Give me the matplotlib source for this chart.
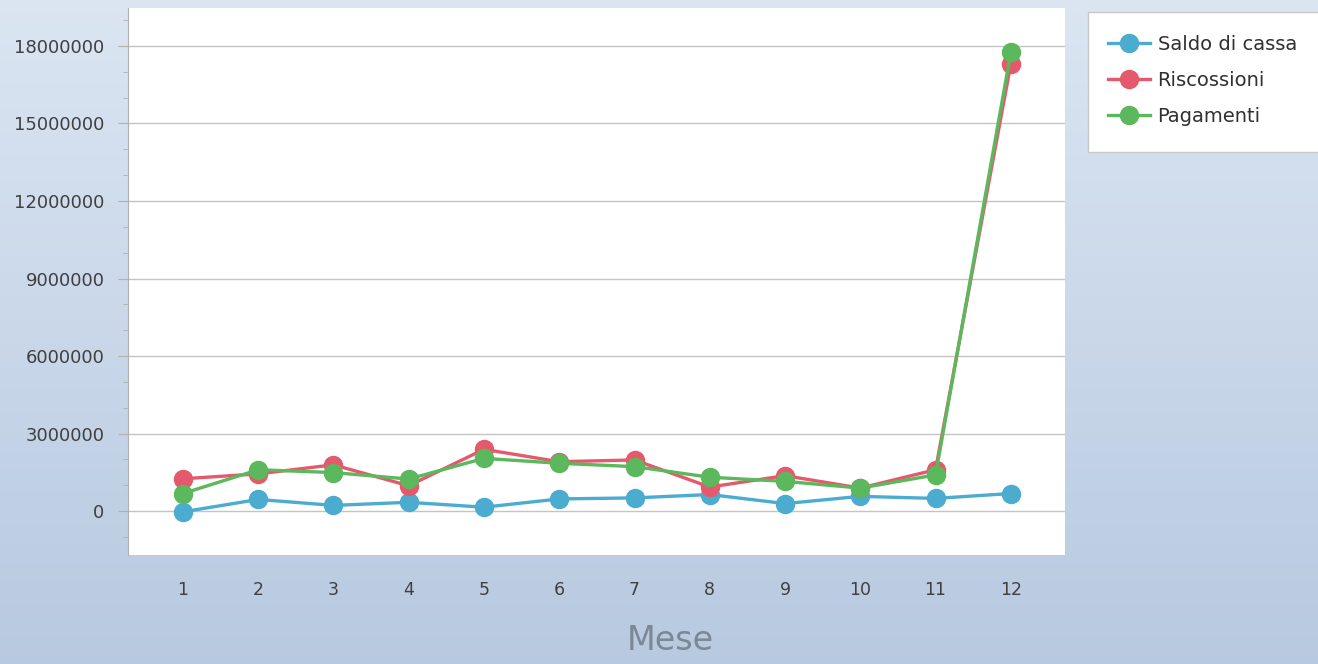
import matplotlib.pyplot as plt
import numpy as np
from matplotlib.patches import Rectangle
from matplotlib.ticker import MultipleLocator, FuncFormatter

months = list(range(1, 13))
saldo = [-30000, 450000, 220000, 340000, 150000, 470000, 510000, 640000, 290000, 570000, 490000, 680000]
riscossioni = [1250000, 1440000, 1790000, 980000, 2390000, 1910000, 1980000, 930000, 1370000, 890000, 1600000, 17300000]
pagamenti = [680000, 1600000, 1490000, 1240000, 2040000, 1850000, 1720000, 1310000, 1150000, 890000, 1400000, 17750000]

series = [
    ("Saldo di cassa", saldo, "#4bacd0"),
    ("Riscossioni", riscossioni, "#e45a6c"),
    ("Pagamenti", pagamenti, "#5cb85c"),
]

W, H = 1318, 664
fig = plt.figure(figsize=(W / 100, H / 100), dpi=100)

# gradient background
bg = fig.add_axes([0, 0, 1, 1], zorder=-10)
top = np.array([0.86, 0.90, 0.95])
bottom = np.array([0.72, 0.79, 0.88])
grad = np.linspace(0, 1, 256)[:, None, None]
img = top + (bottom - top) * grad
img = np.repeat(img, 2, axis=1)
bg.imshow(img, aspect="auto", extent=[0, 1, 0, 1])
bg.set_xlim(0, 1)
bg.set_ylim(0, 1)
bg.axis("off")

# legend box
bg.add_patch(Rectangle((1088 / W, 1 - 152 / H), (W - 1088) / W + 0.01, 140 / H,
                       facecolor="white", edgecolor="#c8c8c8", lw=1, zorder=2))

ax = fig.add_axes([128 / W, 1 - 555 / H, (1065 - 128) / W, (555 - 8) / H])
ax.set_facecolor("white")

for label, values, color in series:
    ax.plot(months, values, color=color, lw=2.4, marker="o", markersize=13,
            label=label, zorder=3)

ax.set_xlim(0.27, 12.72)
ax.set_ylim(-1700000, 19470000)
ax.set_xticks(months)
ax.yaxis.set_major_locator(MultipleLocator(3000000))
ax.yaxis.set_minor_locator(MultipleLocator(1000000))
ax.yaxis.set_major_formatter(FuncFormatter(lambda v, p: f"{int(v)}"))
ax.grid(axis="y", which="major", color="#c4c4c4", lw=1)
ax.set_axisbelow(True)

for side in ("top", "right", "bottom"):
    ax.spines[side].set_visible(False)
ax.spines["left"].set_color("#b0b0b0")

ax.tick_params(axis="x", length=0, pad=19, labelsize=12.5, labelcolor="#404040")
ax.tick_params(axis="y", which="major", length=7, color="#b0b0b0", pad=10,
               labelsize=13, labelcolor="#404040")
ax.tick_params(axis="y", which="minor", length=3.6, color="#b0b0b0")

fig.text(670 / W, 1 - 640 / H, "Mese", fontsize=24, color="#7d8896",
         ha="center", va="center")

handles, labels = ax.get_legend_handles_labels()
leg = fig.legend(handles, labels, loc="upper left",
                 bbox_to_anchor=(1108 / W, 1 - 35 / H),
                 frameon=False, fontsize=14,
                 borderpad=0, labelspacing=0.87, handlelength=2.15,
                 handletextpad=0.4, borderaxespad=0)
for t in leg.get_texts():
    t.set_color("#303030")

fig.savefig("out.png", dpi=100)
